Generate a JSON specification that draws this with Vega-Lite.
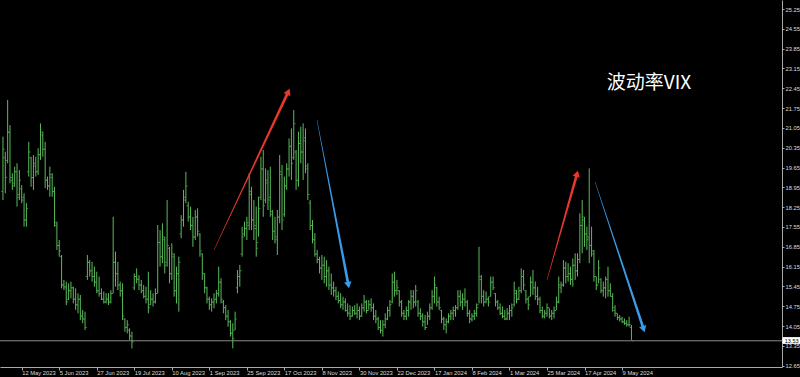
{
"$schema": "https://vega.github.io/schema/vega-lite/v6.json",
"width": 782, "height": 367,
"autosize": {"type": "none"},
"padding": {"left": 0, "top": 0, "right": 18, "bottom": 10},
"background": "#000000",
"config": {"view": {"stroke": null}, "font": "Liberation Sans", "axis": {"labelOverlap": false, "labelSeparation": 0}},
"datasets": {
"one": [{}],
"arrows": [
{"a":"r1","k":"up","e":0,"i":91.0,"v":16.74},
{"a":"r1","k":"up","e":1,"i":122.7,"v":22.33},
{"a":"r2","k":"up","e":0,"i":233.0,"v":15.68},
{"a":"r2","k":"up","e":1,"i":245.8,"v":19.43},
{"a":"b1","k":"down","e":0,"i":134.9,"v":21.33},
{"a":"b1","k":"down","e":1,"i":148.3,"v":15.5},
{"a":"b2","k":"down","e":0,"i":253.5,"v":19.14},
{"a":"b2","k":"down","e":1,"i":274.2,"v":13.94}
],
"bars": [
{"i":1,"d":"2 May 2023","o":18.8,"h":20.74,"l":18.5,"c":20.3},
{"i":2,"d":"3 May 2023","o":20.0,"h":20.21,"l":18.74,"c":19.3},
{"i":3,"d":"4 May 2023","o":19.9,"h":22.04,"l":19.8,"c":20.9},
{"i":4,"d":"5 May 2023","o":20.9,"h":21.15,"l":19.09,"c":19.3},
{"i":5,"d":"8 May 2023","o":19.2,"h":19.45,"l":18.86,"c":19.0},
{"i":6,"d":"9 May 2023","o":19.1,"h":19.68,"l":18.97,"c":19.5},
{"i":7,"d":"10 May 2023","o":19.5,"h":19.8,"l":18.27,"c":18.6},
{"i":8,"d":"11 May 2023","o":18.7,"h":19.56,"l":18.5,"c":19.2},
{"i":9,"d":"12 May 2023","o":18.9,"h":19.03,"l":18.39,"c":18.5},
{"i":10,"d":"15 May 2023","o":18.6,"h":18.74,"l":17.56,"c":17.8},
{"i":11,"d":"16 May 2023","o":17.8,"h":18.39,"l":17.56,"c":18.2},
{"i":12,"d":"17 May 2023","o":19.5,"h":20.56,"l":19.33,"c":20.2},
{"i":13,"d":"18 May 2023","o":20.0,"h":20.03,"l":18.97,"c":19.3},
{"i":14,"d":"19 May 2023","o":19.3,"h":20.09,"l":18.86,"c":19.8},
{"i":15,"d":"22 May 2023","o":19.7,"h":20.03,"l":19.33,"c":19.5},
{"i":16,"d":"23 May 2023","o":19.5,"h":20.33,"l":19.39,"c":20.1},
{"i":17,"d":"24 May 2023","o":20.1,"h":21.21,"l":19.92,"c":20.9},
{"i":18,"d":"25 May 2023","o":20.8,"h":20.92,"l":20.03,"c":20.3},
{"i":19,"d":"26 May 2023","o":20.3,"h":20.56,"l":18.92,"c":19.2},
{"i":20,"d":"29 May 2023","o":19.2,"h":19.33,"l":18.86,"c":19.0},
{"i":21,"d":"30 May 2023","o":19.0,"h":19.68,"l":18.62,"c":19.4},
{"i":22,"d":"31 May 2023","o":19.3,"h":19.45,"l":18.62,"c":18.8},
{"i":23,"d":"1 Jun 2023","o":18.8,"h":18.97,"l":17.56,"c":17.7},
{"i":24,"d":"2 Jun 2023","o":17.6,"h":17.74,"l":16.74,"c":16.9},
{"i":25,"d":"5 Jun 2023","o":16.9,"h":17.09,"l":16.5,"c":16.7},
{"i":26,"d":"6 Jun 2023","o":16.5,"h":16.56,"l":15.38,"c":15.5},
{"i":27,"d":"7 Jun 2023","o":15.5,"h":15.68,"l":15.32,"c":15.45},
{"i":28,"d":"8 Jun 2023","o":15.4,"h":15.62,"l":14.79,"c":14.9},
{"i":29,"d":"9 Jun 2023","o":15.0,"h":15.56,"l":14.97,"c":15.3},
{"i":30,"d":"12 Jun 2023","o":15.3,"h":15.62,"l":15.03,"c":15.4},
{"i":31,"d":"13 Jun 2023","o":15.4,"h":15.44,"l":14.85,"c":15.0},
{"i":32,"d":"14 Jun 2023","o":15.0,"h":15.38,"l":14.62,"c":14.8},
{"i":33,"d":"15 Jun 2023","o":14.8,"h":15.21,"l":14.5,"c":15.0},
{"i":34,"d":"16 Jun 2023","o":15.0,"h":15.15,"l":14.26,"c":14.4},
{"i":35,"d":"19 Jun 2023","o":14.4,"h":14.62,"l":14.15,"c":14.3},
{"i":36,"d":"20 Jun 2023","o":14.3,"h":14.56,"l":13.91,"c":14.0},
{"i":37,"d":"21 Jun 2023","o":15.8,"h":16.56,"l":15.68,"c":16.3},
{"i":38,"d":"22 Jun 2023","o":16.3,"h":16.38,"l":15.8,"c":16.0},
{"i":39,"d":"23 Jun 2023","o":16.0,"h":16.32,"l":15.62,"c":15.8},
{"i":40,"d":"26 Jun 2023","o":15.8,"h":16.15,"l":15.44,"c":15.6},
{"i":41,"d":"27 Jun 2023","o":15.6,"h":15.97,"l":15.21,"c":15.3},
{"i":42,"d":"28 Jun 2023","o":15.3,"h":15.8,"l":15.09,"c":15.2},
{"i":43,"d":"29 Jun 2023","o":15.2,"h":15.38,"l":14.97,"c":15.0},
{"i":44,"d":"30 Jun 2023","o":15.0,"h":15.27,"l":14.85,"c":14.9},
{"i":45,"d":"3 Jul 2023","o":14.9,"h":15.21,"l":14.85,"c":15.0},
{"i":46,"d":"4 Jul 2023","o":15.0,"h":15.21,"l":14.79,"c":14.9},
{"i":47,"d":"5 Jul 2023","o":14.9,"h":15.32,"l":14.85,"c":15.2},
{"i":48,"d":"6 Jul 2023","o":15.2,"h":17.91,"l":15.21,"c":16.3},
{"i":49,"d":"7 Jul 2023","o":16.3,"h":16.68,"l":15.44,"c":15.9},
{"i":50,"d":"10 Jul 2023","o":15.9,"h":16.32,"l":15.32,"c":15.5},
{"i":51,"d":"11 Jul 2023","o":15.5,"h":15.62,"l":15.09,"c":15.3},
{"i":52,"d":"12 Jul 2023","o":15.3,"h":15.56,"l":14.26,"c":14.4},
{"i":53,"d":"13 Jul 2023","o":14.3,"h":14.32,"l":13.85,"c":14.0},
{"i":54,"d":"14 Jul 2023","o":14.0,"h":14.26,"l":13.79,"c":14.1},
{"i":55,"d":"17 Jul 2023","o":13.9,"h":13.97,"l":13.56,"c":13.7},
{"i":56,"d":"18 Jul 2023","o":13.7,"h":13.85,"l":13.26,"c":13.5},
{"i":57,"d":"19 Jul 2023","o":15.4,"h":15.91,"l":15.32,"c":15.8},
{"i":58,"d":"20 Jul 2023","o":15.8,"h":16.09,"l":15.56,"c":15.7},
{"i":59,"d":"21 Jul 2023","o":15.7,"h":15.85,"l":15.32,"c":15.5},
{"i":60,"d":"24 Jul 2023","o":15.5,"h":15.68,"l":15.21,"c":15.3},
{"i":61,"d":"25 Jul 2023","o":15.3,"h":15.5,"l":15.03,"c":15.1},
{"i":62,"d":"26 Jul 2023","o":15.1,"h":15.44,"l":14.85,"c":15.0},
{"i":63,"d":"27 Jul 2023","o":15.0,"h":15.97,"l":14.5,"c":14.7},
{"i":64,"d":"28 Jul 2023","o":14.8,"h":15.32,"l":14.79,"c":15.0},
{"i":65,"d":"31 Jul 2023","o":15.0,"h":15.21,"l":14.74,"c":14.9},
{"i":66,"d":"1 Aug 2023","o":14.9,"h":15.38,"l":14.85,"c":15.2},
{"i":67,"d":"2 Aug 2023","o":15.2,"h":17.62,"l":15.21,"c":17.0},
{"i":68,"d":"3 Aug 2023","o":17.0,"h":17.44,"l":16.15,"c":16.5},
{"i":69,"d":"4 Aug 2023","o":16.5,"h":17.68,"l":16.27,"c":17.2},
{"i":70,"d":"7 Aug 2023","o":17.1,"h":17.21,"l":15.91,"c":16.2},
{"i":71,"d":"8 Aug 2023","o":16.3,"h":18.5,"l":16.15,"c":16.9},
{"i":72,"d":"9 Aug 2023","o":16.8,"h":16.85,"l":15.56,"c":15.9},
{"i":73,"d":"10 Aug 2023","o":15.9,"h":16.97,"l":15.68,"c":16.6},
{"i":74,"d":"11 Aug 2023","o":16.5,"h":16.62,"l":15.09,"c":15.3},
{"i":75,"d":"14 Aug 2023","o":15.3,"h":16.15,"l":14.85,"c":15.9},
{"i":76,"d":"15 Aug 2023","o":15.9,"h":16.5,"l":14.56,"c":16.3},
{"i":77,"d":"16 Aug 2023","o":17.3,"h":17.97,"l":17.15,"c":17.8},
{"i":78,"d":"17 Aug 2023","o":17.8,"h":18.86,"l":17.56,"c":18.5},
{"i":79,"d":"18 Aug 2023","o":18.6,"h":19.5,"l":18.39,"c":19.0},
{"i":80,"d":"21 Aug 2023","o":18.3,"h":18.44,"l":17.74,"c":17.9},
{"i":81,"d":"22 Aug 2023","o":17.9,"h":18.27,"l":17.44,"c":17.6},
{"i":82,"d":"23 Aug 2023","o":17.6,"h":17.91,"l":16.85,"c":17.2},
{"i":83,"d":"24 Aug 2023","o":17.2,"h":18.15,"l":17.09,"c":17.9},
{"i":84,"d":"25 Aug 2023","o":17.9,"h":18.21,"l":17.21,"c":17.4},
{"i":85,"d":"28 Aug 2023","o":17.3,"h":17.33,"l":16.5,"c":16.7},
{"i":86,"d":"29 Aug 2023","o":16.6,"h":16.62,"l":15.68,"c":15.9},
{"i":87,"d":"30 Aug 2023","o":15.9,"h":15.91,"l":15.21,"c":15.4},
{"i":88,"d":"31 Aug 2023","o":15.4,"h":15.44,"l":14.85,"c":15.0},
{"i":89,"d":"1 Sep 2023","o":15.0,"h":15.09,"l":14.62,"c":14.8},
{"i":90,"d":"4 Sep 2023","o":14.8,"h":15.03,"l":14.56,"c":14.9},
{"i":91,"d":"5 Sep 2023","o":14.9,"h":15.21,"l":14.68,"c":15.0},
{"i":92,"d":"6 Sep 2023","o":15.0,"h":15.32,"l":14.85,"c":15.2},
{"i":93,"d":"7 Sep 2023","o":15.2,"h":16.15,"l":15.09,"c":15.6},
{"i":94,"d":"8 Sep 2023","o":15.6,"h":15.74,"l":14.85,"c":15.0},
{"i":95,"d":"11 Sep 2023","o":14.9,"h":14.97,"l":14.5,"c":14.7},
{"i":96,"d":"12 Sep 2023","o":14.7,"h":14.79,"l":14.26,"c":14.4},
{"i":97,"d":"13 Sep 2023","o":14.4,"h":14.62,"l":14.03,"c":14.2},
{"i":98,"d":"14 Sep 2023","o":14.2,"h":14.26,"l":13.68,"c":13.8},
{"i":99,"d":"15 Sep 2023","o":13.8,"h":14.15,"l":13.26,"c":13.6},
{"i":100,"d":"18 Sep 2023","o":13.9,"h":14.56,"l":13.91,"c":14.3},
{"i":101,"d":"19 Sep 2023","o":15.4,"h":16.03,"l":15.21,"c":15.8},
{"i":102,"d":"20 Sep 2023","o":15.8,"h":16.21,"l":15.44,"c":16.0},
{"i":103,"d":"21 Sep 2023","o":16.6,"h":17.56,"l":16.5,"c":17.2},
{"i":104,"d":"22 Sep 2023","o":17.3,"h":17.74,"l":17.21,"c":17.5},
{"i":105,"d":"25 Sep 2023","o":17.5,"h":17.91,"l":17.09,"c":17.7},
{"i":106,"d":"26 Sep 2023","o":17.6,"h":19.45,"l":17.44,"c":18.8},
{"i":107,"d":"27 Sep 2023","o":18.7,"h":18.97,"l":17.44,"c":17.8},
{"i":108,"d":"28 Sep 2023","o":17.8,"h":18.5,"l":17.09,"c":17.6},
{"i":109,"d":"29 Sep 2023","o":17.5,"h":18.27,"l":16.5,"c":16.8},
{"i":110,"d":"2 Oct 2023","o":17.0,"h":18.62,"l":17.21,"c":18.2},
{"i":111,"d":"3 Oct 2023","o":18.6,"h":20.03,"l":18.5,"c":19.6},
{"i":112,"d":"4 Oct 2023","o":19.6,"h":20.27,"l":17.91,"c":18.3},
{"i":113,"d":"5 Oct 2023","o":18.5,"h":19.62,"l":18.39,"c":19.2},
{"i":114,"d":"6 Oct 2023","o":19.1,"h":19.56,"l":18.15,"c":18.5},
{"i":115,"d":"9 Oct 2023","o":18.6,"h":19.68,"l":17.91,"c":18.1},
{"i":116,"d":"10 Oct 2023","o":18.0,"h":18.15,"l":17.09,"c":17.4},
{"i":117,"d":"11 Oct 2023","o":17.4,"h":17.91,"l":16.97,"c":17.2},
{"i":118,"d":"12 Oct 2023","o":17.1,"h":18.15,"l":16.56,"c":17.9},
{"i":119,"d":"13 Oct 2023","o":17.9,"h":20.09,"l":17.68,"c":19.5},
{"i":120,"d":"16 Oct 2023","o":19.4,"h":19.74,"l":17.44,"c":17.8},
{"i":121,"d":"17 Oct 2023","o":18.0,"h":19.33,"l":17.91,"c":19.0},
{"i":122,"d":"18 Oct 2023","o":19.0,"h":19.8,"l":18.86,"c":19.6},
{"i":123,"d":"19 Oct 2023","o":19.6,"h":20.68,"l":19.33,"c":20.4},
{"i":124,"d":"20 Oct 2023","o":20.4,"h":21.03,"l":19.21,"c":19.8},
{"i":125,"d":"23 Oct 2023","o":20.0,"h":21.68,"l":19.92,"c":21.2},
{"i":126,"d":"24 Oct 2023","o":20.2,"h":20.27,"l":18.86,"c":19.2},
{"i":127,"d":"25 Oct 2023","o":19.2,"h":20.92,"l":18.97,"c":20.5},
{"i":128,"d":"26 Oct 2023","o":20.5,"h":21.09,"l":19.8,"c":20.2},
{"i":129,"d":"27 Oct 2023","o":20.2,"h":21.21,"l":19.21,"c":20.6},
{"i":130,"d":"30 Oct 2023","o":20.7,"h":21.03,"l":19.45,"c":19.7},
{"i":131,"d":"31 Oct 2023","o":19.6,"h":19.8,"l":18.5,"c":18.7},
{"i":132,"d":"1 Nov 2023","o":18.4,"h":18.5,"l":17.44,"c":17.6},
{"i":133,"d":"2 Nov 2023","o":17.6,"h":17.8,"l":16.97,"c":17.1},
{"i":134,"d":"3 Nov 2023","o":17.1,"h":17.33,"l":16.5,"c":16.6},
{"i":135,"d":"6 Nov 2023","o":16.6,"h":16.74,"l":16.27,"c":16.4},
{"i":136,"d":"7 Nov 2023","o":16.4,"h":16.5,"l":15.91,"c":16.1},
{"i":137,"d":"8 Nov 2023","o":16.1,"h":16.56,"l":15.68,"c":16.2},
{"i":138,"d":"9 Nov 2023","o":16.2,"h":16.5,"l":15.56,"c":15.8},
{"i":139,"d":"10 Nov 2023","o":15.8,"h":16.38,"l":15.44,"c":16.0},
{"i":140,"d":"13 Nov 2023","o":16.0,"h":16.15,"l":15.32,"c":15.5},
{"i":141,"d":"14 Nov 2023","o":15.5,"h":15.91,"l":15.15,"c":15.4},
{"i":142,"d":"15 Nov 2023","o":15.4,"h":15.62,"l":15.09,"c":15.3},
{"i":143,"d":"16 Nov 2023","o":15.3,"h":15.44,"l":14.97,"c":15.1},
{"i":144,"d":"17 Nov 2023","o":15.1,"h":15.27,"l":14.85,"c":14.95},
{"i":145,"d":"20 Nov 2023","o":14.95,"h":15.21,"l":14.68,"c":14.8},
{"i":146,"d":"21 Nov 2023","o":14.8,"h":15.09,"l":14.62,"c":14.9},
{"i":147,"d":"22 Nov 2023","o":14.9,"h":15.03,"l":14.56,"c":14.6},
{"i":148,"d":"23 Nov 2023","o":14.6,"h":14.85,"l":14.38,"c":14.5},
{"i":149,"d":"24 Nov 2023","o":14.5,"h":14.79,"l":14.26,"c":14.4},
{"i":150,"d":"27 Nov 2023","o":14.4,"h":14.74,"l":14.38,"c":14.6},
{"i":151,"d":"28 Nov 2023","o":14.6,"h":14.79,"l":14.44,"c":14.5},
{"i":152,"d":"29 Nov 2023","o":14.5,"h":14.85,"l":14.32,"c":14.6},
{"i":153,"d":"30 Nov 2023","o":14.6,"h":14.74,"l":14.26,"c":14.4},
{"i":154,"d":"1 Dec 2023","o":14.4,"h":14.85,"l":14.38,"c":14.7},
{"i":155,"d":"4 Dec 2023","o":14.7,"h":15.15,"l":14.56,"c":14.9},
{"i":156,"d":"5 Dec 2023","o":14.9,"h":14.97,"l":14.5,"c":14.6},
{"i":157,"d":"6 Dec 2023","o":14.6,"h":14.97,"l":14.62,"c":14.8},
{"i":158,"d":"7 Dec 2023","o":14.8,"h":15.03,"l":14.56,"c":14.7},
{"i":159,"d":"8 Dec 2023","o":14.7,"h":14.85,"l":14.26,"c":14.4},
{"i":160,"d":"11 Dec 2023","o":14.4,"h":14.62,"l":14.15,"c":14.3},
{"i":161,"d":"12 Dec 2023","o":14.3,"h":14.38,"l":13.91,"c":14.0},
{"i":162,"d":"13 Dec 2023","o":14.0,"h":14.26,"l":13.79,"c":13.9},
{"i":163,"d":"14 Dec 2023","o":13.9,"h":14.26,"l":13.68,"c":14.1},
{"i":164,"d":"15 Dec 2023","o":14.1,"h":14.5,"l":13.97,"c":14.3},
{"i":165,"d":"18 Dec 2023","o":14.3,"h":14.74,"l":14.26,"c":14.6},
{"i":166,"d":"19 Dec 2023","o":14.6,"h":14.97,"l":14.38,"c":14.8},
{"i":167,"d":"20 Dec 2023","o":14.9,"h":15.91,"l":14.85,"c":15.6},
{"i":168,"d":"21 Dec 2023","o":15.6,"h":15.97,"l":15.09,"c":15.3},
{"i":169,"d":"22 Dec 2023","o":15.3,"h":15.68,"l":15.15,"c":15.4},
{"i":170,"d":"26 Dec 2023","o":15.3,"h":15.32,"l":14.74,"c":14.9},
{"i":171,"d":"27 Dec 2023","o":14.9,"h":14.97,"l":14.38,"c":14.5},
{"i":172,"d":"28 Dec 2023","o":14.5,"h":14.62,"l":14.26,"c":14.4},
{"i":173,"d":"29 Dec 2023","o":14.4,"h":14.74,"l":14.26,"c":14.6},
{"i":174,"d":"2 Jan 2024","o":14.6,"h":14.97,"l":14.38,"c":14.9},
{"i":175,"d":"3 Jan 2024","o":14.9,"h":15.32,"l":14.62,"c":15.1},
{"i":176,"d":"4 Jan 2024","o":15.1,"h":15.32,"l":14.68,"c":14.9},
{"i":177,"d":"5 Jan 2024","o":14.9,"h":15.5,"l":14.74,"c":15.3},
{"i":178,"d":"8 Jan 2024","o":14.9,"h":14.97,"l":14.38,"c":14.5},
{"i":179,"d":"9 Jan 2024","o":14.5,"h":14.68,"l":14.26,"c":14.4},
{"i":180,"d":"10 Jan 2024","o":14.4,"h":14.5,"l":14.03,"c":14.2},
{"i":181,"d":"11 Jan 2024","o":14.2,"h":14.44,"l":13.91,"c":14.0},
{"i":182,"d":"12 Jan 2024","o":14.0,"h":14.56,"l":14.09,"c":14.4},
{"i":183,"d":"15 Jan 2024","o":14.4,"h":14.85,"l":14.26,"c":14.7},
{"i":184,"d":"16 Jan 2024","o":14.7,"h":15.32,"l":14.62,"c":15.1},
{"i":185,"d":"17 Jan 2024","o":15.1,"h":15.8,"l":14.85,"c":15.5},
{"i":186,"d":"18 Jan 2024","o":15.4,"h":15.44,"l":14.74,"c":14.9},
{"i":187,"d":"19 Jan 2024","o":14.9,"h":15.09,"l":14.62,"c":14.7},
{"i":188,"d":"22 Jan 2024","o":14.6,"h":14.62,"l":14.15,"c":14.3},
{"i":189,"d":"23 Jan 2024","o":14.3,"h":14.38,"l":13.91,"c":14.1},
{"i":190,"d":"24 Jan 2024","o":14.1,"h":14.32,"l":13.79,"c":14.2},
{"i":191,"d":"25 Jan 2024","o":14.2,"h":14.5,"l":14.15,"c":14.4},
{"i":192,"d":"26 Jan 2024","o":14.4,"h":14.62,"l":14.26,"c":14.5},
{"i":193,"d":"29 Jan 2024","o":14.5,"h":14.74,"l":14.26,"c":14.6},
{"i":194,"d":"30 Jan 2024","o":14.6,"h":14.79,"l":14.38,"c":14.7},
{"i":195,"d":"31 Jan 2024","o":14.7,"h":15.32,"l":14.62,"c":15.1},
{"i":196,"d":"1 Feb 2024","o":15.1,"h":15.32,"l":14.74,"c":14.9},
{"i":197,"d":"2 Feb 2024","o":14.9,"h":15.21,"l":14.62,"c":15.0},
{"i":198,"d":"5 Feb 2024","o":15.0,"h":15.38,"l":14.74,"c":14.9},
{"i":199,"d":"6 Feb 2024","o":14.9,"h":14.97,"l":14.38,"c":14.5},
{"i":200,"d":"7 Feb 2024","o":14.5,"h":14.62,"l":14.15,"c":14.3},
{"i":201,"d":"8 Feb 2024","o":14.3,"h":14.5,"l":14.21,"c":14.4},
{"i":202,"d":"9 Feb 2024","o":14.4,"h":14.62,"l":14.26,"c":14.5},
{"i":203,"d":"12 Feb 2024","o":14.5,"h":14.85,"l":14.38,"c":14.7},
{"i":204,"d":"13 Feb 2024","o":14.8,"h":16.85,"l":14.85,"c":15.8},
{"i":205,"d":"14 Feb 2024","o":15.7,"h":15.85,"l":14.85,"c":15.1},
{"i":206,"d":"15 Feb 2024","o":15.1,"h":15.32,"l":14.74,"c":14.9},
{"i":207,"d":"16 Feb 2024","o":14.9,"h":15.27,"l":14.85,"c":15.0},
{"i":208,"d":"19 Feb 2024","o":15.0,"h":15.09,"l":14.74,"c":14.9},
{"i":209,"d":"20 Feb 2024","o":15.1,"h":15.8,"l":15.09,"c":15.6},
{"i":210,"d":"21 Feb 2024","o":15.6,"h":15.8,"l":15.32,"c":15.4},
{"i":211,"d":"22 Feb 2024","o":15.2,"h":15.21,"l":14.74,"c":14.9},
{"i":212,"d":"23 Feb 2024","o":14.9,"h":14.97,"l":14.62,"c":14.7},
{"i":213,"d":"26 Feb 2024","o":14.7,"h":14.85,"l":14.44,"c":14.5},
{"i":214,"d":"27 Feb 2024","o":14.5,"h":14.74,"l":14.32,"c":14.4},
{"i":215,"d":"28 Feb 2024","o":14.4,"h":14.62,"l":14.26,"c":14.3},
{"i":216,"d":"29 Feb 2024","o":14.3,"h":14.68,"l":14.26,"c":14.5},
{"i":217,"d":"1 Mar 2024","o":14.5,"h":14.79,"l":14.26,"c":14.6},
{"i":218,"d":"4 Mar 2024","o":14.6,"h":14.85,"l":14.38,"c":14.7},
{"i":219,"d":"5 Mar 2024","o":14.8,"h":15.62,"l":14.74,"c":15.3},
{"i":220,"d":"6 Mar 2024","o":15.2,"h":15.32,"l":14.85,"c":15.0},
{"i":221,"d":"7 Mar 2024","o":15.0,"h":15.44,"l":14.97,"c":15.3},
{"i":222,"d":"8 Mar 2024","o":15.3,"h":16.09,"l":15.21,"c":15.8},
{"i":223,"d":"11 Mar 2024","o":15.8,"h":16.03,"l":15.32,"c":15.5},
{"i":224,"d":"12 Mar 2024","o":15.3,"h":15.32,"l":14.85,"c":15.0},
{"i":225,"d":"13 Mar 2024","o":15.0,"h":15.09,"l":14.62,"c":14.8},
{"i":226,"d":"14 Mar 2024","o":15.1,"h":15.8,"l":15.09,"c":15.6},
{"i":227,"d":"15 Mar 2024","o":15.6,"h":16.03,"l":15.15,"c":15.4},
{"i":228,"d":"18 Mar 2024","o":15.4,"h":15.62,"l":14.97,"c":15.1},
{"i":229,"d":"19 Mar 2024","o":15.1,"h":15.44,"l":14.79,"c":15.0},
{"i":230,"d":"20 Mar 2024","o":15.0,"h":15.09,"l":14.5,"c":14.6},
{"i":231,"d":"21 Mar 2024","o":14.6,"h":14.74,"l":14.32,"c":14.4},
{"i":232,"d":"22 Mar 2024","o":14.4,"h":14.62,"l":14.32,"c":14.5},
{"i":233,"d":"25 Mar 2024","o":14.5,"h":14.85,"l":14.38,"c":14.7},
{"i":234,"d":"26 Mar 2024","o":14.7,"h":14.68,"l":14.32,"c":14.4},
{"i":235,"d":"27 Mar 2024","o":14.4,"h":14.62,"l":14.26,"c":14.5},
{"i":236,"d":"28 Mar 2024","o":14.5,"h":14.74,"l":14.32,"c":14.6},
{"i":237,"d":"1 Apr 2024","o":14.6,"h":15.09,"l":14.62,"c":14.9},
{"i":238,"d":"2 Apr 2024","o":14.9,"h":15.8,"l":14.85,"c":15.5},
{"i":239,"d":"3 Apr 2024","o":15.4,"h":15.62,"l":15.21,"c":15.5},
{"i":240,"d":"4 Apr 2024","o":15.5,"h":16.38,"l":15.44,"c":16.1},
{"i":241,"d":"5 Apr 2024","o":16.1,"h":16.32,"l":15.56,"c":15.8},
{"i":242,"d":"8 Apr 2024","o":15.8,"h":16.27,"l":15.62,"c":15.9},
{"i":243,"d":"9 Apr 2024","o":15.9,"h":16.15,"l":15.5,"c":15.7},
{"i":244,"d":"10 Apr 2024","o":15.7,"h":16.44,"l":15.44,"c":16.2},
{"i":245,"d":"11 Apr 2024","o":16.2,"h":16.62,"l":15.68,"c":16.0},
{"i":246,"d":"12 Apr 2024","o":16.0,"h":16.62,"l":15.8,"c":16.4},
{"i":247,"d":"15 Apr 2024","o":16.4,"h":18.03,"l":16.27,"c":17.6},
{"i":248,"d":"16 Apr 2024","o":17.6,"h":18.5,"l":16.62,"c":17.9},
{"i":249,"d":"17 Apr 2024","o":17.8,"h":17.91,"l":16.85,"c":17.3},
{"i":250,"d":"18 Apr 2024","o":17.3,"h":17.56,"l":16.74,"c":17.1},
{"i":251,"d":"19 Apr 2024","o":17.2,"h":19.62,"l":16.27,"c":16.9},
{"i":252,"d":"22 Apr 2024","o":16.9,"h":17.56,"l":16.5,"c":16.7},
{"i":253,"d":"23 Apr 2024","o":16.6,"h":16.74,"l":15.62,"c":15.8},
{"i":254,"d":"24 Apr 2024","o":15.8,"h":15.8,"l":15.32,"c":15.5},
{"i":255,"d":"25 Apr 2024","o":15.5,"h":16.38,"l":15.56,"c":16.1},
{"i":256,"d":"26 Apr 2024","o":15.7,"h":15.74,"l":15.21,"c":15.3},
{"i":257,"d":"29 Apr 2024","o":15.3,"h":15.62,"l":15.09,"c":15.4},
{"i":258,"d":"30 Apr 2024","o":15.4,"h":15.8,"l":15.03,"c":15.7},
{"i":259,"d":"1 May 2024","o":15.7,"h":16.15,"l":15.09,"c":15.3},
{"i":260,"d":"2 May 2024","o":15.3,"h":15.56,"l":15.09,"c":15.1},
{"i":261,"d":"3 May 2024","o":15.1,"h":15.21,"l":14.56,"c":14.7},
{"i":262,"d":"6 May 2024","o":14.6,"h":14.79,"l":14.38,"c":14.5},
{"i":263,"d":"7 May 2024","o":14.5,"h":14.5,"l":14.26,"c":14.35},
{"i":264,"d":"8 May 2024","o":14.35,"h":14.44,"l":14.21,"c":14.3},
{"i":265,"d":"9 May 2024","o":14.3,"h":14.38,"l":14.15,"c":14.2},
{"i":266,"d":"10 May 2024","o":14.2,"h":14.32,"l":14.09,"c":14.15},
{"i":267,"d":"13 May 2024","o":14.15,"h":14.26,"l":14.03,"c":14.1},
{"i":268,"d":"14 May 2024","o":14.1,"h":14.38,"l":14.03,"c":14.1},
{"i":269,"d":"15 May 2024","o":14.0,"h":14.09,"l":13.56,"c":13.53}
]
},
"layer": [
{
"data": {"name": "bars"},
"mark": {"type": "rule", "color": "#5bbb5b", "strokeWidth": 1},
"encoding": {
"x": {"field": "i", "type": "quantitative",
"scale": {"domain": [-0.26, 333.2], "nice": false, "zero": false},
"axis": {"orient": "bottom", "title": null, "grid": false, "tickCount": 40,
"values": [9,25,41,57,73,89,105,121,137,153,169,185,201,217,233,249,265],
"labelExpr": "['12 May 2023','5 Jun 2023','27 Jun 2023','19 Jul 2023','10 Aug 2023','1 Sep 2023','25 Sep 2023','17 Oct 2023','8 Nov 2023','30 Nov 2023','22 Dec 2023','17 Jan 2024','8 Feb 2024','1 Mar 2024','25 Mar 2024','17 Apr 2024','9 May 2024'][(datum.value-9)/16]",
"labelAlign": "left", "labelDx": 1, "labelBaseline": "top", "labelPadding": -0.5,
"labelFontSize": 5.8, "labelColor": "#dddddd", "labelFont": "Liberation Sans",
"labelOverlap": false, "labelFlush": false, "labelBound": false,
"tickColor": "#aaaaaa", "tickSize": 3, "domainColor": "#aaaaaa", "domainWidth": 1}},
"y": {"field": "l", "type": "quantitative",
"scale": {"domain": [12.604, 25.568], "nice": false, "zero": false},
"axis": {"orient": "right", "title": null, "grid": false, "tickCount": 40,
"values": [12.65,13.35,14.05,14.75,15.45,16.15,16.85,17.55,18.25,18.95,19.65,20.35,21.05,21.75,22.45,23.15,23.85,24.55,25.25],
"format": ".2f", "labelFontSize": 5.8, "labelColor": "#dddddd", "labelFont": "Liberation Sans",
"labelPadding": 1, "labelOverlap": false, "labelSeparation": 0, "labelFlush": false, "labelBound": false,
"tickColor": "#aaaaaa", "tickSize": 2, "domainColor": "#aaaaaa", "domainWidth": 1}},
"y2": {"field": "h"}
}
},
{
"data": {"name": "bars"},
"mark": {"type": "tick", "orient": "horizontal", "color": "#5bbb5b", "size": 1.5, "thickness": 1, "xOffset": -1},
"encoding": {"x": {"field": "i", "type": "quantitative"}, "y": {"field": "o", "type": "quantitative"}}
},
{
"data": {"name": "bars"},
"mark": {"type": "tick", "orient": "horizontal", "color": "#5bbb5b", "size": 1.5, "thickness": 1, "xOffset": 1},
"encoding": {"x": {"field": "i", "type": "quantitative"}, "y": {"field": "c", "type": "quantitative"}}
},
{
"data": {"name": "one"},
"mark": {"type": "rule", "color": "#8a8a8a", "strokeWidth": 1},
"encoding": {"y": {"datum": 13.53, "type": "quantitative"}}
},
{
"data": {"name": "arrows"},
"mark": {"type": "trail"},
"encoding": {
"x": {"field": "i", "type": "quantitative"},
"y": {"field": "v", "type": "quantitative"},
"detail": {"field": "a"},
"order": {"field": "e"},
"color": {"field": "k", "type": "nominal", "scale": {"domain": ["up", "down"], "range": ["#e8382b", "#3a9be8"]}, "legend": null},
"size": {"field": "e", "type": "quantitative", "scale": {"domain": [0, 1], "range": [0.4, 2.8], "zero": false}, "legend": null}
}
},
{
"data": {"name": "one"},
"mark": {"type": "point", "shape": "triangle-up", "filled": true, "color": "#e8382b", "size": 55, "angle": 25, "opacity": 1},
"encoding": {"x": {"datum": 122.7, "type": "quantitative"}, "y": {"datum": 22.33, "type": "quantitative"}}
},
{
"data": {"name": "one"},
"mark": {"type": "point", "shape": "triangle-up", "filled": true, "color": "#e8382b", "size": 55, "angle": 16, "opacity": 1},
"encoding": {"x": {"datum": 245.8, "type": "quantitative"}, "y": {"datum": 19.43, "type": "quantitative"}}
},
{
"data": {"name": "one"},
"mark": {"type": "point", "shape": "triangle-up", "filled": true, "color": "#3a9be8", "size": 55, "angle": 169, "opacity": 1},
"encoding": {"x": {"datum": 148.3, "type": "quantitative"}, "y": {"datum": 15.5, "type": "quantitative"}}
},
{
"data": {"name": "one"},
"mark": {"type": "point", "shape": "triangle-up", "filled": true, "color": "#3a9be8", "size": 55, "angle": 162, "opacity": 1},
"encoding": {"x": {"datum": 274.2, "type": "quantitative"}, "y": {"datum": 13.94, "type": "quantitative"}}
},
{
"data": {"name": "one"},
"mark": {"type": "text", "text": "波动率VIX", "font": "Noto Sans CJK SC", "fontSize": 19, "color": "#ffffff", "align": "center", "baseline": "middle"},
"encoding": {"x": {"datum": 276.5, "type": "quantitative"}, "y": {"datum": 22.64, "type": "quantitative"}}
},
{
"data": {"name": "one"},
"mark": {"type": "rect", "color": "#ffffff", "stroke": "#ffffff"},
"encoding": {"x": {"datum": 333.6, "type": "quantitative"}, "x2": {"datum": 340.9}, "y": {"datum": 13.44, "type": "quantitative"}, "y2": {"datum": 13.64}}
},
{
"data": {"name": "one"},
"mark": {"type": "text", "text": "13.53", "font": "Liberation Sans", "fontSize": 5.5, "color": "#000000", "align": "center", "baseline": "middle"},
"encoding": {"x": {"datum": 337.3, "type": "quantitative"}, "y": {"datum": 13.53, "type": "quantitative"}}
}
]
}
